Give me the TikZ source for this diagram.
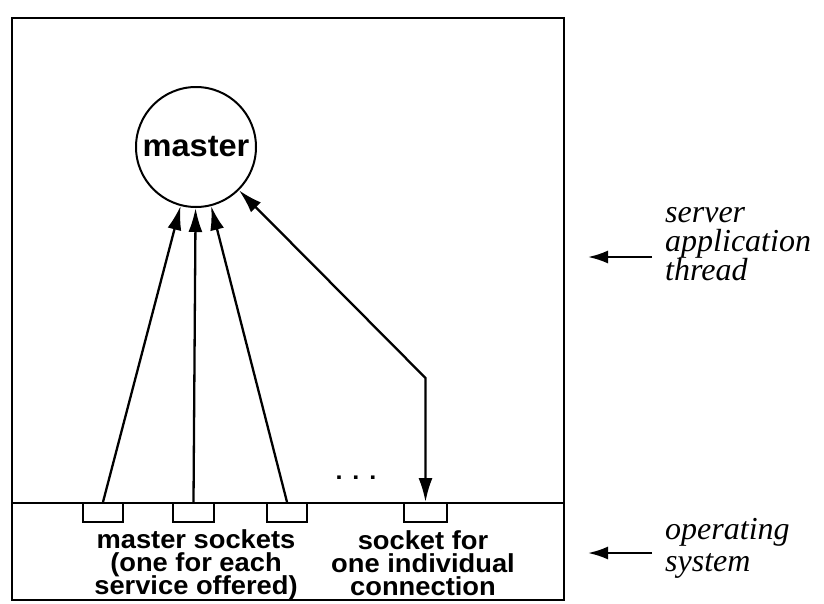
\documentclass[tikz,border=0pt]{standalone}
\usepackage{fontspec}
\setmainfont{Liberation Serif}
\newfontfamily\helv[FakeStretch=1.05]{Liberation Sans}
\usetikzlibrary{arrows.meta,calc}
\newcommand\tightlines{\lineskiplimit=-100pt\relax}

\begin{document}
\begin{tikzpicture}[x=1pt,y=-1pt,
    sock/.style={draw,rectangle,line width=2pt,minimum width=40pt,minimum height=19pt,inner sep=0pt},
    lab/.style={align=center,inner sep=0pt,font=\helv\bfseries\fontsize{26}{23}\selectfont\tightlines},
    side/.style={align=left,anchor=west,inner sep=0pt,font=\itshape\fontsize{32}{29}\selectfont\tightlines},
    tip/.style={line width=2.3pt,-{Latex[length=24pt,width=14pt]}},
    sidetip/.style={line width=2.2pt,-{Latex[length=20pt,width=13pt]}}]
    \useasboundingbox (0,0) rectangle (824,603);
    % frame: thread above, operating system below
    \draw[line width=2.5pt] (12,18) rectangle (564,600);
    \draw[line width=2pt] (12,503) -- (564,503);

    \node[draw,circle,line width=2pt,minimum size=120pt,inner sep=0pt,font=\helv\bfseries\fontsize{31}{31}\selectfont] (master) at (196,147) {master};

    \node[sock] (sock1) at (103,512.5) {};
    \node[sock,minimum width=41pt] (sock2) at (193.5,512.5) {};
    \node[sock] (sock3) at (287,512.5) {};
    \node[sock,minimum width=43pt] (conn) at (425.5,512.5) {};
    \coordinate (bend) at (425.5,378);

    \draw[tip] (sock1.north) -- (master);
    \draw[tip] (sock2.north) -- (master);
    \draw[tip] (sock3.north) -- (master);
    \draw[line width=2.3pt,{Latex[length=24pt,width=14pt]}-{Latex[length=24pt,width=14pt]}] (master) -- (bend) -- (conn.north);

    \node[font=\helv\bfseries\fontsize{24}{24}\selectfont,inner sep=0pt] (dots) at (356,478) {.\hspace{10pt}.\hspace{10pt}.};

    \node[lab] (mslab) at (196,565) {master sockets\\(one for each\\service offered)};
    \node[lab] (connlab) at (423,563) {socket for\\one individual\\connection};

    \node[side] (srv) at (665,244) {server\\application\\thread};
    \node[side,font=\itshape\fontsize{32}{32}\selectfont\tightlines] (os) at (665,548) {operating\\system};
    \coordinate (srvtail) at (652,257);
    \coordinate (srvhead) at (588,257);
    \coordinate (ostail) at (652,553);
    \coordinate (oshead) at (588,553);
    \draw[sidetip] (srvtail) -- (srvhead);
    \draw[sidetip] (ostail) -- (oshead);
\end{tikzpicture}
\end{document}
